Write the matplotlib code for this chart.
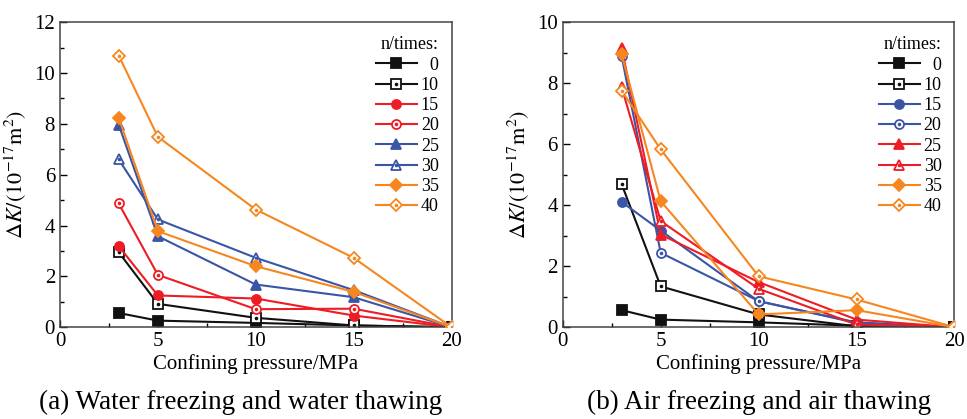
import matplotlib
matplotlib.use('Agg')
import matplotlib.pyplot as plt
from matplotlib.ticker import MultipleLocator

plt.rcParams['font.family'] = ['Liberation Serif', 'DejaVu Serif']
plt.rcParams['mathtext.fontset'] = 'stix'

pressure = [3, 5, 10, 15, 20]
cycles = ['0', '10', '15', '20', '25', '30', '35', '40']

# (a) water freezing and water thawing
dk_water = {
    '0': [0.56, 0.26, 0.17, 0.07, 0.0],
    '10': [2.95, 0.92, 0.37, 0.07, 0.0],
    '15': [3.19, 1.25, 1.13, 0.46, 0.0],
    '20': [4.87, 2.06, 0.71, 0.73, 0.0],
    '25': [7.97, 3.58, 1.68, 1.18, 0.0],
    '30': [6.60, 4.24, 2.73, 1.46, 0.0],
    '35': [8.24, 3.78, 2.40, 1.39, 0.0],
    '40': [10.69, 7.49, 4.63, 2.73, 0.0],
}

# (b) air freezing and air thawing
dk_air = {
    '0': [0.56, 0.25, 0.16, 0.05, 0.0],
    '10': [4.70, 1.34, 0.42, 0.03, 0.0],
    '15': [4.11, 3.17, 0.85, 0.16, 0.0],
    '20': [8.90, 2.44, 0.86, 0.14, 0.0],
    '25': [9.16, 3.04, 1.48, 0.25, 0.0],
    '30': [7.88, 3.48, 1.26, 0.09, 0.0],
    '35': [8.96, 4.13, 0.42, 0.56, 0.0],
    '40': [7.76, 5.83, 1.67, 0.91, 0.0],
}

BLACK = '#111111'
RED = '#ee1c24'
BLUE = '#3a55a5'
ORANGE = '#f7861f'

markers = ['s', 's', 'o', 'o', '^', '^', 'D', 'D']
filled = [True, False, True, False, True, False, True, False]
colors_a = [BLACK, BLACK, RED, RED, BLUE, BLUE, ORANGE, ORANGE]
colors_b = [BLACK, BLACK, BLUE, BLUE, RED, RED, ORANGE, ORANGE]


def draw_panel(ax, data, colors, ymax, caption, cap_x):
    handles = []
    for i, key in enumerate(cycles):
        c = colors[i]
        ms = 6.5 if markers[i] != 'D' else 6
        line, = ax.plot(pressure, data[key], color=c, lw=1.5,
                        marker=markers[i], markersize=ms,
                        markerfacecolor=c if filled[i] else 'white',
                        markeredgecolor=c, markeredgewidth=1.3, zorder=2 + i * 0.1)
        if filled[i]:
            handles.append(line)
        else:
            # open markers carry a small centre dot
            dot, = ax.plot(pressure, data[key], ls='none', marker='o',
                           markersize=1.6, color=c, zorder=2.05 + i * 0.1)
            handles.append((line, dot))

    ax.set_xlim(0, 20)
    ax.set_ylim(0, ymax)
    ax.xaxis.set_major_locator(MultipleLocator(5))
    ax.xaxis.set_minor_locator(MultipleLocator(2.5))
    ax.yaxis.set_major_locator(MultipleLocator(2))
    ax.yaxis.set_minor_locator(MultipleLocator(1))
    ax.tick_params(which='both', direction='in', labelsize=15, top=False, right=False)
    ax.tick_params(which='major', length=5, width=1)
    ax.tick_params(which='minor', length=3, width=1)
    for sp in ax.spines.values():
        sp.set_color('#444444')
        sp.set_linewidth(1.1)
    ax.set_xlabel('Confining pressure/MPa', fontsize=15, labelpad=2)
    ax.set_ylabel(r'$\Delta K/(10^{-17}\mathrm{m}^2)$', fontsize=16, labelpad=4)

    labels = ['  0', '10', '15', '20', '25', '30', '35', '40']
    leg = ax.legend(handles, labels, title='n/times:', loc='upper right',
                    frameon=False, fontsize=13, title_fontsize=13,
                    handlelength=2.3, handletextpad=0.2, labelspacing=0.18,
                    borderaxespad=0.3, bbox_to_anchor=(1.0, 0.995))
    leg._legend_box.align = 'right'
    ax.text(cap_x, -0.246, caption, transform=ax.transAxes, ha='center',
            va='center', fontsize=19.5)


fig = plt.figure(figsize=(9.67, 4.19), dpi=100)
ax1 = fig.add_axes([0.062, 0.219, 0.405, 0.728])
ax2 = fig.add_axes([0.582, 0.219, 0.405, 0.728])

draw_panel(ax1, dk_water, colors_a, 12, '(a) Water freezing and water thawing', 0.462)
draw_panel(ax2, dk_air, colors_b, 10, '(b) Air freezing and air thawing', 0.5)

fig.savefig('out.png', dpi=100)
